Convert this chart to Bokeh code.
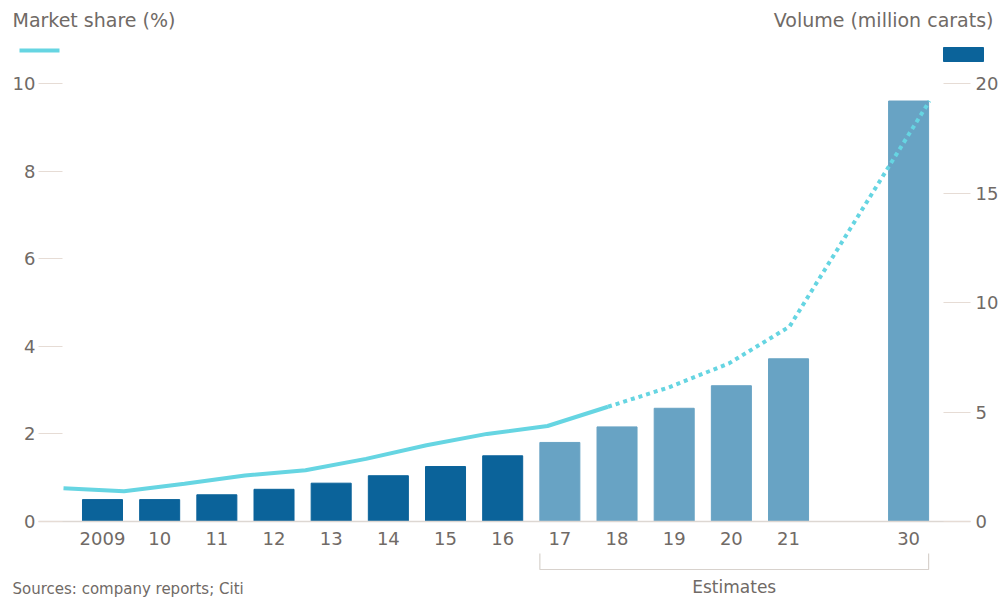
from bokeh.plotting import figure
from bokeh.models import Range1d, LinearAxis, FixedTicker, ColumnDataSource, Label
from bokeh.embed import file_html
from bokeh.resources import INLINE

# ---- data ----
years = ["2009", "10", "11", "12", "13", "14", "15", "16", "17", "18", "19", "20", "21", "30"]
volume = [1.0, 1.0, 1.22, 1.47, 1.75, 2.09, 2.51, 3.0, 3.61, 4.32, 5.17, 6.2, 7.43, 19.2]
share = [0.76, 0.69, 0.86, 1.05, 1.17, 1.43, 1.74, 2.0, 2.18, 2.62, 3.06, 3.61, 4.45, 9.6]
first_estimate = "17"
share_ticks = [0, 2, 4, 6, 8, 10]
volume_ticks = [0, 5, 10, 15, 20]

# ---- layout geometry (pixels) ----
W, H = 1000, 598
BAR0_PX, SLOT_PX = 102, 57.17        # bar centre of first year / spacing
LINE0_PX, LINE_SLOT_PX = 63, 60.5    # line first point / spacing
BASE_PY, PCT_PX = 521, 43.8          # baseline y / px per 1 %
LEFT_PX, RIGHT_PX = 38, 970

n = len(years)
bar_pos = list(range(n - 1)) + [n - 1 + 1.1]
line_pos = list(range(n - 1)) + [(929 - LINE0_PX) / LINE_SLOT_PX]
BAR_W = 0.7

def px_to_x(px):
    return (px - BAR0_PX) / SLOT_PX

def py_to_y(py):
    return (BASE_PY - py) / PCT_PX

GREY = "#706a66"
TICK = "#e6dcd5"
CYAN = "#66d5e2"
DARK = "#0b639a"
LIGHT = "#68a3c4"
FONT = "DejaVu Sans"

x_range = Range1d(px_to_x(0), px_to_x(W))
y_range = Range1d(py_to_y(H), py_to_y(0))

p = figure(width=W, height=H, x_range=x_range, y_range=y_range,
           output_backend="svg", toolbar_location=None, min_border=0,
           x_axis_type=None, y_axis_type=None, outline_line_color=None,
           background_fill_color="white", border_fill_color="white")
p.grid.visible = False
p.extra_y_ranges = {"vol": Range1d(y_range.start * 2, y_range.end * 2)}
p.extra_x_ranges = {"line": Range1d(-LINE0_PX / LINE_SLOT_PX, (W - LINE0_PX) / LINE_SLOT_PX)}

est_idx = years.index(first_estimate)
colors = [DARK if i < est_idx else LIGHT for i in range(n)]
src = ColumnDataSource(dict(x=bar_pos, top=volume, color=colors))
p.vbar(x="x", top="top", bottom=0, width=BAR_W, color="color", y_range_name="vol", source=src)

# line: solid for actuals (through 2018), dotted beyond
split = est_idx + 1
p.line(line_pos[:split + 1], share[:split + 1], x_range_name="line", line_width=4, color=CYAN)
p.line(line_pos[split:], share[split:], x_range_name="line", line_width=4, color=CYAN, line_dash="4 4")

# axes
def style_axis(ax):
    ax.axis_line_color = None
    ax.minor_tick_line_color = None
    ax.major_tick_out = 0
    ax.major_tick_line_color = TICK
    ax.major_tick_line_width = 1.2
    ax.major_label_text_color = GREY
    ax.major_label_text_font = FONT
    ax.major_label_text_font_size = "18px"

la = LinearAxis(ticker=FixedTicker(ticks=share_ticks), fixed_location=px_to_x(LEFT_PX))
style_axis(la)
la.major_tick_in = 24
la.major_label_standoff = 3
p.add_layout(la, "left")

ra = LinearAxis(ticker=FixedTicker(ticks=volume_ticks), y_range_name="vol", fixed_location=px_to_x(RIGHT_PX))
style_axis(ra)
ra.major_tick_in = 27
ra.major_label_standoff = 5
p.add_layout(ra, "right")

xa = LinearAxis(ticker=FixedTicker(ticks=bar_pos), fixed_location=0,
                bounds=(px_to_x(LEFT_PX), px_to_x(RIGHT_PX)),
                major_label_overrides={pos: lab for pos, lab in zip(bar_pos, years)})
style_axis(xa)
xa.axis_line_color = "#ddd7d2"
xa.axis_line_width = 1.5
xa.major_tick_line_color = None
xa.major_tick_in = 0
xa.major_label_standoff = 10
p.add_layout(xa, "below")

# legend swatches
p.line([px_to_x(19), px_to_x(59)], [py_to_y(50), py_to_y(50)], line_width=4, color=CYAN)
p.quad(left=px_to_x(943), right=px_to_x(983), top=py_to_y(47), bottom=py_to_y(61), color=DARK)

# estimates bracket
bx0 = bar_pos[est_idx] - BAR_W / 2
bx1 = bar_pos[-1] + BAR_W / 2
p.line([bx0, bx0, bx1, bx1], [py_to_y(553), py_to_y(569), py_to_y(569), py_to_y(553)],
       color="#d8d2cd", line_width=1.2)

def label(x, y, text, align="left", size="19px", baseline="middle"):
    p.add_layout(Label(x=x, y=y, text=text, text_align=align, text_baseline=baseline,
                       text_font=FONT, text_font_size=size, text_color=GREY))

label(px_to_x(12), py_to_y(19), "Market share (%)")
label(px_to_x(993), py_to_y(19), "Volume (million carats)", align="right")
label((bx0 + bx1) / 2, py_to_y(586), "Estimates", align="center", size="17px")
label(px_to_x(12), py_to_y(597), "Sources: company reports; Citi", size="15px", baseline="bottom")

open("out.html", "w").write(file_html(p, INLINE))
